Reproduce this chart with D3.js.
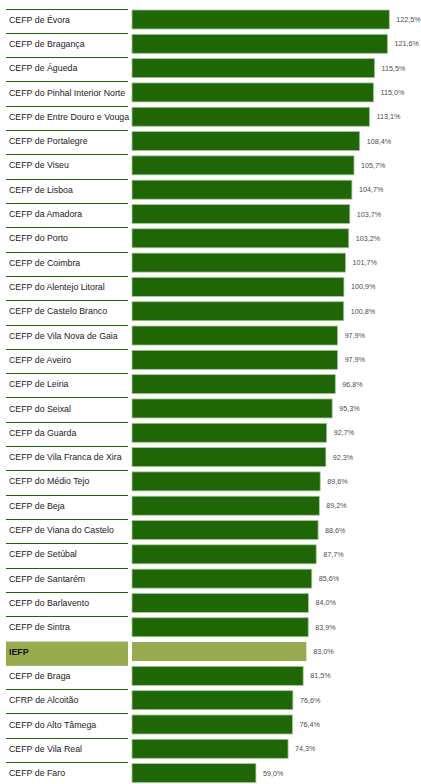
<!DOCTYPE html>
<html>
<head>
<meta charset="utf-8">
<script src="https://cdn.jsdelivr.net/npm/d3@7"></script>
<style>
  body { margin: 0; background: #fff; }
  svg { display: block; }
  text { font-family: "Liberation Sans", Arial, sans-serif; }
</style>
</head>
<body>
<svg id="chart" width="421" height="784"></svg>
<script>
(function () {

  'use strict';

  // centros, by order of the chart
  var centros = ['CEFP de Évora', 'CEFP de Bragança', 'CEFP de Águeda', 'CEFP do Pinhal Interior Norte',
    'CEFP de Entre Douro e Vouga', 'CEFP de Portalegre', 'CEFP de Viseu', 'CEFP de Lisboa',
    'CEFP da Amadora', 'CEFP do Porto', 'CEFP de Coimbra', 'CEFP do Alentejo Litoral',
    'CEFP de Castelo Branco', 'CEFP de Vila Nova de Gaia', 'CEFP de Aveiro', 'CEFP de Leiria',
    'CEFP do Seixal', 'CEFP da Guarda', 'CEFP de Vila Franca de Xira', 'CEFP do Médio Tejo',
    'CEFP de Beja', 'CEFP de Viana do Castelo', 'CEFP de Setúbal', 'CEFP de Santarém',
    'CEFP do Barlavento', 'CEFP de Sintra', 'IEFP', 'CEFP de Braga', 'CFRP de Alcoitão',
    'CEFP do Alto Tâmega', 'CEFP de Vila Real', 'CEFP de Faro'];
  var taxas = [122.5, 121.6, 115.5, 115.0, 113.1, 108.4, 105.7, 104.7, 103.7, 103.2, 101.7, 100.9,
    100.8, 97.9, 97.9, 96.8, 95.3, 92.7, 92.3, 89.6, 89.2, 88.6, 87.7, 85.6, 84.0, 83.9, 83.0,
    81.5, 76.6, 76.4, 74.3, 59.0];
  var destaque = 'IEFP'; // the total row

  var DARK = '#1f6604';
  var LIGHT = '#98ab4d';
  var rowH = 24.31;
  var top = 9.5;

  var svg = d3.select('#chart');

  var y = d3.scaleBand()
    .domain(centros)
    .range([top, top + rowH * centros.length])
    .padding(0);

  var x = d3.scaleLinear()
    .domain([0, 122.5])
    .range([132, 389.3]);

  var fmt = function (v) { return d3.format('.1f')(v).replace('.', ',') + '%'; };

  var data = centros.map(function (c, i) { return { nome: c, taxa: taxas[i] }; });

  // highlight box for IEFP label
  svg.append('rect')
    .attr('x', 6)
    .attr('y', y(destaque))
    .attr('width', 122)
    .attr('height', y.bandwidth())
    .attr('fill', LIGHT);

  // separator lines left of the bars
  svg.selectAll('.sep')
    .data(data.filter(function (d, i) {
      return d.nome !== destaque && (i === 0 || centros[i - 1] !== destaque);
    }))
    .enter()
    .append('line')
    .attr('class', 'sep')
    .attr('x1', 6)
    .attr('x2', 128)
    .attr('y1', function (d) { return Math.round(y(d.nome)) - 0.5; })
    .attr('y2', function (d) { return Math.round(y(d.nome)) - 0.5; })
    .attr('stroke', DARK)
    .attr('stroke-width', 1.2);

  svg.selectAll('.bar')
    .data(data)
    .enter()
    .append('rect')
    .attr('class', 'bar')
    .attr('x', x(0))
    .attr('y', function (d) { return y(d.nome) + 0.5; })
    .attr('width', function (d) { return x(d.taxa) - x(0); })
    .attr('height', y.bandwidth() - 5.3)
    .attr('fill', function (d) { return d.nome === destaque ? LIGHT : DARK; })
    .attr('stroke', function (d) { return d.nome === destaque ? 'none' : '#a7c9a0'; })
    .attr('stroke-width', 0.8);

  svg.selectAll('.label')
    .data(data)
    .enter()
    .append('text')
    .attr('class', 'label')
    .attr('x', 9)
    .attr('y', function (d) { return y(d.nome) + 10; })
    .attr('dy', '0.35em')
    .attr('font-size', 8.8)
    .attr('font-weight', function (d) { return d.nome === destaque ? 'bold' : 'normal'; })
    .attr('fill', function (d) { return d.nome === destaque ? '#111' : '#222'; })
    .text(function (d) { return d.nome; });

  svg.selectAll('.valor')
    .data(data)
    .enter()
    .append('text')
    .attr('class', 'valor')
    .attr('x', function (d) { return x(d.taxa) + 7; })
    .attr('y', function (d) { return y(d.nome) + 10; })
    .attr('dy', '0.35em')
    .attr('font-size', 7.2)
    .attr('fill', '#4d4d4d')
    .text(function (d) { return fmt(d.taxa); });

})();
</script>
</body>
</html>
